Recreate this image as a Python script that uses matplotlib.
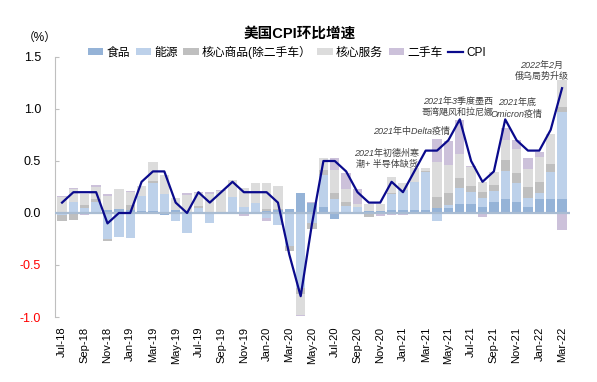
import matplotlib
matplotlib.use("Agg")
import matplotlib.pyplot as plt
import numpy as np

plt.rcParams['font.family'] = ['Liberation Sans', 'Noto Sans CJK SC', 'DejaVu Sans']
plt.rcParams['axes.unicode_minus'] = False

months = ["Jul-18", "Aug-18", "Sep-18", "Oct-18", "Nov-18", "Dec-18",
          "Jan-19", "Feb-19", "Mar-19", "Apr-19", "May-19", "Jun-19",
          "Jul-19", "Aug-19", "Sep-19", "Oct-19", "Nov-19", "Dec-19",
          "Jan-20", "Feb-20", "Mar-20", "Apr-20", "May-20", "Jun-20",
          "Jul-20", "Aug-20", "Sep-20", "Oct-20", "Nov-20", "Dec-20",
          "Jan-21", "Feb-21", "Mar-21", "Apr-21", "May-21", "Jun-21",
          "Jul-21", "Aug-21", "Sep-21", "Oct-21", "Nov-21", "Dec-21",
          "Jan-22", "Feb-22", "Mar-22"]

food = [0.01, 0.01, 0.01, 0.01, 0.03, 0.04,
        0.03, 0.02, 0.02, -0.02, 0.03, 0.00,
        0.01, 0.00, 0.01, 0.01, 0.01, 0.01,
        0.02, 0.03, 0.04, 0.19, 0.10, 0.06,
        -0.06, 0.00, 0.01, 0.02, 0.02, 0.03,
        0.03, 0.03, 0.03, 0.05, 0.05, 0.09,
        0.09, 0.06, 0.11, 0.13, 0.11, 0.06,
        0.13, 0.13, 0.13]
energy = [-0.02, 0.10, 0.04, 0.10, -0.25, -0.23,
          -0.24, 0.14, 0.27, 0.18, -0.08, -0.19,
          0.04, -0.10, -0.01, 0.14, 0.05, 0.09,
          -0.05, -0.12, -0.32, -0.72, -0.10, 0.31,
          0.13, 0.07, 0.05, -0.01, 0.00, 0.15,
          0.19, 0.27, 0.36, -0.08, 0.03, 0.15,
          0.11, 0.08, 0.10, 0.27, 0.18, 0.08,
          0.06, 0.26, 0.84]
core_goods = [-0.06, -0.07, 0.03, 0.02, -0.02, 0.00,
              0.05, 0.00, 0.02, 0.00, 0.00, 0.00,
              0.02, 0.00, 0.00, 0.00, 0.00, 0.00,
              0.02, 0.01, -0.05, -0.06, -0.05, 0.04,
              0.06, 0.04, 0.00, -0.03, 0.00, 0.01,
              0.00, 0.00, 0.01, 0.10, 0.11, 0.10,
              0.06, 0.06, 0.06, 0.11, 0.09, 0.11,
              0.11, 0.08, 0.05]
core_services = [0.14, 0.12, 0.10, 0.12, 0.13, 0.19,
                 0.12, 0.10, 0.18, 0.19, 0.11, 0.17,
                 0.12, 0.18, 0.20, 0.17, 0.18, 0.19,
                 0.25, 0.22, 0.00, -0.20, 0.00, 0.12,
                 0.22, 0.12, 0.03, 0.07, 0.07, 0.16,
                 0.07, 0.13, 0.03, 0.34, 0.27, 0.23,
                 0.18, 0.10, 0.12, 0.19, 0.24, 0.17,
                 0.24, 0.29, 0.26]
used_cars = [0.01, 0.01, -0.02, 0.02, 0.02, 0.00,
             0.01, -0.01, -0.01, 0.00, 0.00, 0.02,
             0.01, 0.02, 0.01, -0.01, -0.03, 0.00,
             -0.03, 0.00, 0.00, -0.01, 0.01, 0.00,
             0.12, 0.15, 0.14, 0.00, -0.03, -0.02,
             -0.02, 0.00, 0.00, 0.22, 0.23, 0.32,
             0.01, -0.04, -0.01, 0.12, 0.08, 0.11,
             0.05, 0.00, -0.16]
cpi = [0.1, 0.2, 0.2, 0.2, -0.1, 0.0,
       0.0, 0.3, 0.4, 0.4, 0.1, 0.0,
       0.2, 0.1, 0.2, 0.3, 0.2, 0.2,
       0.2, 0.1, -0.4, -0.8, -0.1, 0.5,
       0.5, 0.4, 0.2, 0.1, 0.1, 0.3,
       0.2, 0.4, 0.6, 0.6, 0.7, 0.9,
       0.5, 0.3, 0.4, 0.9, 0.7, 0.6,
       0.6, 0.8, 1.2]

series_names = ["食品", "能源", "核心商品(除二手车）", "核心服务", "二手车"]
series_vals = [food, energy, core_goods, core_services, used_cars]
colors = ["#95B3D7", "#BDD1EA", "#BFBFBF", "#DCDCDC", "#CCC1DA"]

fig = plt.figure(figsize=(5.97, 3.82), dpi=100)
ax = fig.add_axes([55/597, 1-317/382, 515/597, 260/382])

x = np.arange(len(months))
pos_bottom = np.zeros(len(months))
neg_bottom = np.zeros(len(months))
handles = []
for name, vals, c in zip(series_names, series_vals, colors):
    v = np.array(vals)
    bottom = np.where(v >= 0, pos_bottom, neg_bottom)
    h = ax.bar(x, v, width=0.82, bottom=bottom, color=c, label=name, zorder=2)
    handles.append(h)
    pos_bottom = pos_bottom + np.where(v >= 0, v, 0)
    neg_bottom = neg_bottom + np.where(v < 0, v, 0)

ax.axhline(0, color="#A9BCD2", lw=1.6, zorder=3)
line, = ax.plot(x, cpi, color="#0A0A8C", lw=1.6, zorder=4, label="CPI")
handles.append(line)

ax.set_xlim(-0.62, 44.7)
ax.set_ylim(-1.0, 1.5)
ax.set_yticks([-1.0, -0.5, 0.0, 0.5, 1.0, 1.5])
ax.set_yticklabels(["-1.0", "-0.5", "0.0", "0.5", "1.0", "1.5"], fontsize=9)
for lbl in ax.get_yticklabels():
    if lbl.get_text().startswith("-"):
        lbl.set_color("#FF0000")
ax.tick_params(axis='y', direction='in', length=3, color="#BFBFBF", pad=10)

ax.set_xticks(x[::2])
ax.set_xticklabels(months[::2], rotation=90, fontsize=8)
ax.tick_params(axis='x', length=0, pad=7)

for s in ["top", "right", "bottom"]:
    ax.spines[s].set_visible(False)
ax.spines["left"].set_color("#BFBFBF")
ax.spines["left"].set_linewidth(0.8)

fig.text(40/597, 1-38/382, "（%）", fontsize=8.5, ha='center', va='center')
fig.text(300/597, 1-34/382, "美国CPI环比增速", fontsize=10.5, fontweight='bold',
         ha='center', va='center')

fig.legend(handles, series_names + ["CPI"], loc='center', ncol=6,
           bbox_to_anchor=(287/597, 1-52/382), frameon=False, fontsize=8.5,
           handlelength=1.3, handleheight=0.55, handletextpad=0.25,
           columnspacing=0.5, borderaxespad=0)

anno_kw = dict(fontsize=6.5, style='italic', color="#404040", ha='center', va='center',
               linespacing=1.3)
fig.text(542/597, 1-71/382, "2022年2月\n俄乌局势升级", **anno_kw)
fig.text(517/597, 1-109/382, "2021年底\nOmicron疫情", **anno_kw)
fig.text(458/597, 1-107/382, "2021年3季度墨西\n哥湾飓风和拉尼娜", **anno_kw)
fig.text(412/597, 1-131/382, "2021年中Delta疫情", **anno_kw)
fig.text(387/597, 1-159/382, "2021年初德州寒\n潮+ 半导体缺货", **anno_kw)

fig.savefig("out.png", dpi=100)
